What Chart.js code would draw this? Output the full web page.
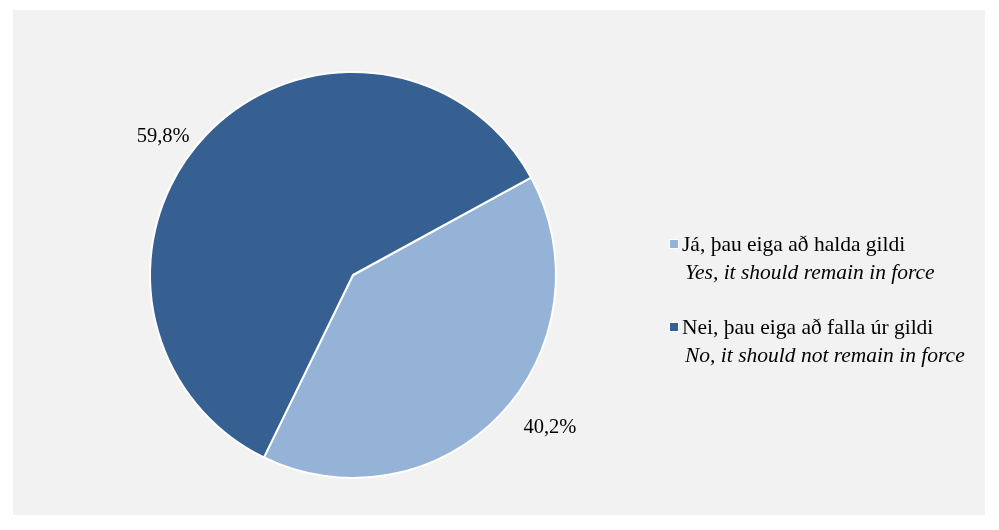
<!DOCTYPE html>
<html>
<head>
<meta charset="utf-8">
<script src="https://cdn.jsdelivr.net/npm/chart.js@4"></script>
<style>
  html, body { margin: 0; padding: 0; background: #ffffff; }
  #wrap { position: absolute; left: 0; top: 0; width: 999px; height: 530px; }
  #bg { position: absolute; left: 13px; top: 10px; width: 972px; height: 505px; background: #f2f2f2; }
  #c { position: absolute; left: 0; top: 0; }
  .leg { position: absolute; font-family: "Liberation Serif", "Times New Roman", serif; font-size: 21.5px; color: #000; white-space: nowrap; line-height: 28px; }
  .leg .sw { position: absolute; left: 0; top: 9px; width: 8px; height: 8px; border: 1px solid #fff; }
  .leg .l1 { position: absolute; left: 13px; top: 0; }
  .leg .l2 { position: absolute; left: 16px; top: 28px; font-style: italic; }
</style>
</head>
<body>
<div id="wrap">
  <div id="bg"></div>
  <canvas id="c" width="999" height="530"></canvas>
  <div id="legend"></div>
</div>
<script>
const categories = ["Já, þau eiga að halda gildi", "Nei, þau eiga að falla úr gildi"];
const categoriesEn = ["Yes, it should remain in force", "No, it should not remain in force"];
const values = [40.2, 59.8];
const valueLabels = ["40,2%", "59,8%"];
const colors = ["#95b3d7", "#366092"];
const labelOffsets = [[50, 12], [-43, 2]];

const labelPlugin = {
  id: 'pctLabels',
  afterDatasetsDraw(chart) {
    const ctx = chart.ctx;
    const meta = chart.getDatasetMeta(0);
    ctx.save();
    ctx.font = '20.5px "Liberation Serif", "Times New Roman", serif';
    ctx.fillStyle = '#000';
    ctx.textAlign = 'center';
    ctx.textBaseline = 'middle';
    meta.data.forEach((arc, i) => {
      const p = arc.getProps(['x', 'y', 'startAngle', 'endAngle', 'outerRadius'], true);
      const mid = (p.startAngle + p.endAngle) / 2;
      const x = p.x + Math.cos(mid) * p.outerRadius + labelOffsets[i][0];
      const y = p.y + Math.sin(mid) * p.outerRadius + labelOffsets[i][1];
      ctx.fillText(valueLabels[i], x, y);
    });
    ctx.restore();
  }
};

new Chart(document.getElementById('c'), {
  type: 'pie',
  data: {
    labels: categories,
    datasets: [{
      data: values,
      backgroundColor: colors,
      borderColor: '#ffffff',
      borderWidth: 2
    }]
  },
  options: {
    responsive: false,
    animation: false,
    rotation: 61.3,
    layout: { padding: { left: 149, right: 442, top: 71, bottom: 51 } },
    plugins: { legend: { display: false }, tooltip: { enabled: false } }
  },
  plugins: [labelPlugin]
});

const legend = document.getElementById('legend');
const legTops = [230, 313];
categories.forEach((c, i) => {
  const d = document.createElement('div');
  d.className = 'leg';
  d.style.left = '669px';
  d.style.top = legTops[i] + 'px';
  d.innerHTML = '<div class="sw" style="background:' + colors[i] + '"></div>' +
    '<div class="l1"></div><div class="l2"></div>';
  d.querySelector('.l1').textContent = c;
  d.querySelector('.l2').textContent = categoriesEn[i];
  legend.appendChild(d);
});
</script>
</body>
</html>
